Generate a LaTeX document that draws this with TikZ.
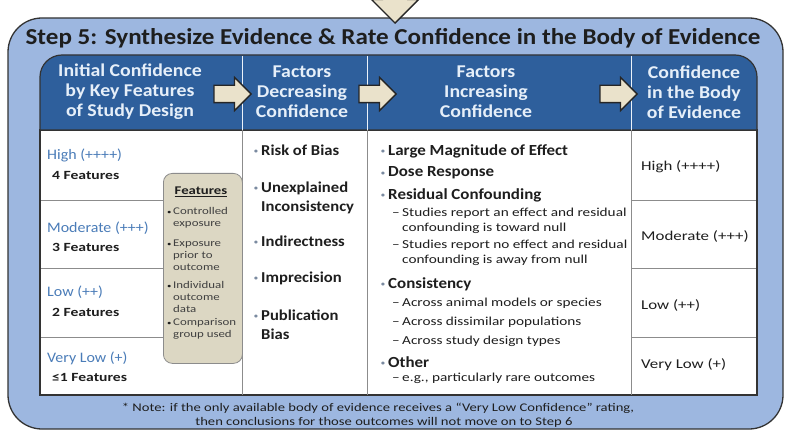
\documentclass[tikz,border=0pt]{standalone}
\usepackage{fontspec}
\setmainfont{Carlito}[FakeStretch=1.1]
\newfontfamily\widefont{Carlito}[FakeStretch=1.25,Ligatures=TeX]
\usetikzlibrary{positioning,shapes.arrows}

\definecolor{outerblue}{HTML}{9DB7E0}
\definecolor{hdrblue}{HTML}{2E5F9C}
\definecolor{hdrtext}{HTML}{E6EFF9}
\definecolor{lvlblue}{HTML}{4A7CB8}
\definecolor{featfill}{HTML}{DCD7C3}
\definecolor{arrowfill}{HTML}{EAE2CB}
\definecolor{rulegray}{HTML}{8C8C8C}
\definecolor{inkdark}{HTML}{1E1E1E}
\definecolor{bulgray}{HTML}{7A8AA0}

\newcommand{\bul}{\makebox[7pt][l]{\raisebox{1.5pt}{\textcolor{bulgray}{\fontsize{7}{7}\selectfont\textbullet}}}}
\newcommand{\dsh}{\makebox[10pt][l]{–}}
\newcommand{\fbul}{\makebox[6pt][l]{\textcolor{inkdark}{\fontsize{7}{7}\selectfont\textbullet}}}

\begin{document}
\begin{tikzpicture}[x=1pt, y=-1pt,
    hdr/.style={font=\bfseries\fontsize{18}{20}\selectfont, text=hdrtext, align=center, inner sep=0},
    lvl/.style={anchor=west, font=\fontsize{14.5}{17}\selectfont, text=lvlblue, inner sep=0},
    cnt/.style={anchor=west, font=\widefont\bfseries\fontsize{12.5}{14}\selectfont, text=inkdark, inner sep=0},
    dec/.style={anchor=west, font=\bfseries\fontsize{15.1}{19}\selectfont, text=inkdark, align=left, inner sep=0},
    inc/.style={anchor=west, font=\bfseries\fontsize{15.4}{18}\selectfont, text=inkdark, inner sep=0},
    sub/.style={anchor=west, font=\widefont\fontsize{12.2}{15}\selectfont, text=inkdark, align=left, inner sep=0},
    conf/.style={anchor=west, font=\widefont\fontsize{13.5}{17}\selectfont, text=inkdark, inner sep=0},
    feat/.style={anchor=west, font=\widefont\fontsize{10.3}{11.8}\selectfont, text=inkdark!85, align=left, inner sep=0},
    note/.style={font=\widefont\fontsize{11.7}{14}\selectfont, text=inkdark, inner sep=0},
    barrow/.style={single arrow, draw=black!85, fill=arrowfill, line width=1.3pt,
        text height=0pt, text depth=0pt, inner xsep=0pt, inner ysep=8pt,
        single arrow head extend=8pt, minimum height=37pt, anchor=tip},
    divider/.style={draw=rulegray, line width=0.8pt}
]
\useasboundingbox (0,0) rectangle (792,430);

% outer panel and incoming arrow
\draw[fill=outerblue, draw=black!80, line width=1.3pt, rounded corners=34] (8,18) rectangle (783,429);
\node[barrow, shape border rotate=270, inner sep=12pt, single arrow head extend=11pt, minimum height=44pt] (inarrow) at (395,24) {};
\node[font=\bfseries\fontsize{22.8}{24}\selectfont, text=inkdark, inner sep=0] (title) at (393,38)
    {Step 5: Synthesize Evidence \& Rate Confidence in the Body of Evidence};

% table body and header
\draw[fill=white, draw=black!80, line width=1.2pt] (40,130) rectangle (757,395);
\draw[fill=hdrblue, draw=black!80, line width=1.2pt] (40,130) [rounded corners=22] -- (40,55) -- (757,55) [sharp corners] -- (757,130) -- cycle;
\foreach \x in {242,367,631} {
    \draw[draw=hdrtext!80, line width=0.6pt] (\x,56) -- (\x,130);
    \draw[divider] (\x,130) -- (\x,395);
}
\foreach \y in {200,268,337} {
    \draw[divider] (41,\y) -- (242,\y);
    \draw[divider] (631,\y) -- (756,\y);
}

% header labels
\node[hdr] (h1) at (130,92) {Initial Confidence\\by Key Features\\of Study Design};
\node[hdr] (h2) at (302,92) {Factors\\Decreasing\\Confidence};
\node[hdr] (h3) at (486,92) {Factors\\Increasing\\Confidence};
\node[hdr] (h4) at (694,92) {Confidence\\in the Body\\of Evidence};
\node[barrow] (a1) at (252,94) {};
\node[barrow] (a2) at (397,94) {};
\node[barrow] (a3) at (638,94) {};

% initial confidence column
\node[lvl] (l1) at (47,155) {High (++++)};
\node[cnt] (n1) at (52,175) {4 Features};
\node[lvl] (l2) at (47,228) {Moderate (+++)};
\node[cnt] (n2) at (52,247) {3 Features};
\node[lvl] (l3) at (47,292) {Low (++)};
\node[cnt] (n3) at (52,312) {2 Features};
\node[lvl] (l4) at (47,358) {Very Low (+)};
\node[cnt] (n4) at (52,377) {≤1 Features};

% key features box
\node[draw=rulegray, fill=featfill, line width=0.8pt, rounded corners=9, minimum width=79pt, minimum height=190pt,
    anchor=north west, inner sep=0] (fbox) at (163,173) {};
\node[font=\widefont\bfseries\fontsize{11.8}{12}\selectfont, text=inkdark, inner sep=0] (ftitle) at (201,192) {\underline{Features}};
\node[feat] (f1) at (167,217.5) {\fbul Controlled\\\hspace*{6pt}exposure};
\node[feat] (f2) at (167,255) {\fbul Exposure\\\hspace*{6pt}prior to\\\hspace*{6pt}outcome};
\node[feat] (f3) at (167,297) {\fbul Individual\\\hspace*{6pt}outcome\\\hspace*{6pt}data};
\node[feat] (f4) at (167,329) {\fbul Comparison\\\hspace*{6pt}group used};

% decreasing factors
\node[dec] (d1) at (254,150) {\bul Risk of Bias};
\node[dec] (d2) at (254,197.5) {\bul Unexplained\\\hspace*{7pt}Inconsistency};
\node[dec] (d3) at (254,241) {\bul Indirectness};
\node[dec] (d4) at (254,278) {\bul Imprecision};
\node[dec] (d5) at (254,324.5) {\bul Publication\\\hspace*{7pt}Bias};

% increasing factors
\node[inc] (i1) at (381,151) {\bul Large Magnitude of Effect};
\node[inc] (i2) at (381,173) {\bul Dose Response};
\node[inc] (i3) at (381,195) {\bul Residual Confounding};
\node[sub] (s1) at (392,220.5) {\dsh Studies report an effect and residual\\\hspace*{10pt}confounding is toward null};
\node[sub] (s2) at (392,252.5) {\dsh Studies report no effect and residual\\\hspace*{10pt}confounding is away from null};
\node[inc] (i4) at (381,284) {\bul Consistency};
\node[sub] (s3) at (392,303) {\dsh Across animal models or species};
\node[sub] (s4) at (392,322) {\dsh Across dissimilar populations};
\node[sub] (s5) at (392,341) {\dsh Across study design types};
\node[inc] (i5) at (381,362) {\bul Other};
\node[sub] (s6) at (392,378) {\dsh e.g., particularly rare outcomes};

% confidence in the body of evidence
\node[conf] (c1) at (641,167) {High (++++)};
\node[conf] (c2) at (641,236) {Moderate (+++)};
\node[conf] (c3) at (641,305) {Low (++)};
\node[conf] (c4) at (641,365) {Very Low (+)};

% footnote
\node[note] (note1) at (378,408) {* Note: if the only available body of evidence receives a “Very Low Confidence” rating,};
\node[note] (note2) at (384,422) {then conclusions for those outcomes will not move on to Step 6};
\end{tikzpicture}
\end{document}
